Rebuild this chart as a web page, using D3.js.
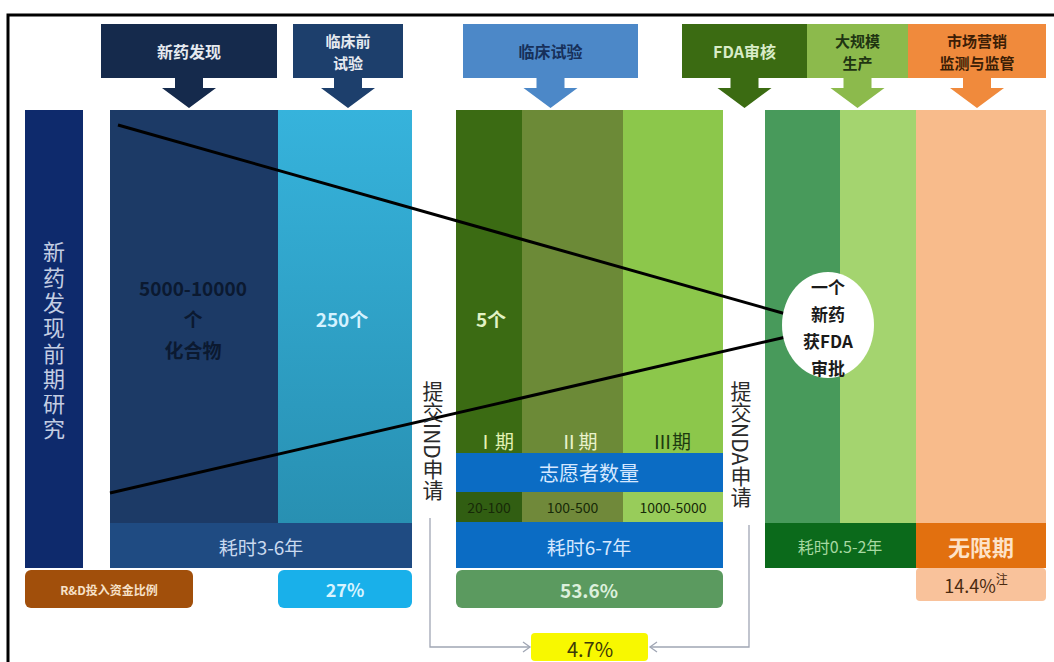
<!DOCTYPE html>
<meta charset="utf-8">
<style>
  body { margin: 0; background: #fff; }
  text { font-family: "Noto Sans CJK SC", "Noto Sans", sans-serif; }
  .vert { writing-mode: vertical-rl; }
</style>
<svg width="1054" height="662"></svg>
<script src="https://d3js.org/d3.v7.min.js"></script>
<script>

  // ---- data ----
  var stageLabels = [["新药发现"], ["临床前", "试验"], ["临床试验"], ["FDA审核"], ["大规模", "生产"], ["市场营销", "监测与监管"]];
  var stageColors = ["#152a4c", "#1d3f6c", "#4c88c8", "#3b6b12", "#8cba4c", "#f08a3c"];
  var stageText = ["#e6eaf0", "#e6eaf0", "#17305a", "#d8ecc8", "#1f3512", "#3c1e06"];
  var stageEdges = [101, 277, 293, 403, 463, 638, 682, 807, 807, 908, 908, 1046];

  var compounds = ["5000-10000", "个", "化合物"];
  var candidates = ["250个", "5个"];
  var approved = ["一个", "新药", "获FDA", "审批"];
  var phases = ["Ⅰ期", "Ⅱ期", "Ⅲ期"];
  var volunteers = ["20-100", "100-500", "1000-5000"];
  var durations = ["耗时3-6年", "耗时6-7年", "耗时0.5-2年", "无限期"];
  var rdShare = [27, 53.6, 14.4, 4.7];
  var filings = ["提交IND申请", "提交NDA申请"];

  var svg = d3.select("svg"),
    width = +svg.attr("width"),
    height = +svg.attr("height");

  var x = d3.scaleLinear().domain([0, 1054]).range([0, width]);
  var y = d3.scaleLinear().domain([0, 662]).range([0, height]);

  var defs = svg.append("defs");
  var g1 = defs.append("linearGradient").attr("id", "cyan").attr("x1", 0).attr("y1", 0).attr("x2", 0).attr("y2", 1);
  g1.append("stop").attr("offset", "0%").attr("stop-color", "#36b3dc");
  g1.append("stop").attr("offset", "100%").attr("stop-color", "#2890b2");

  function rect(x0, y0, x1, y1, fill, r) {
    return svg.append("rect")
      .attr("x", x(x0)).attr("y", y(y0))
      .attr("width", x(x1) - x(x0)).attr("height", y(y1) - y(y0))
      .attr("rx", r || 0).attr("fill", fill);
  }

  function label(tx, ty, str, size, fill, weight) {
    return svg.append("text")
      .attr("x", x(tx)).attr("y", y(ty))
      .attr("text-anchor", "middle").attr("dominant-baseline", "central")
      .attr("font-size", size).attr("font-weight", weight || "bold")
      .attr("fill", fill).text(str);
  }

  // frame
  svg.append("path")
    .attr("d", "M" + x(8) + "," + y(662) + "V" + y(15) + "H" + x(1054))
    .attr("fill", "none").attr("stroke", "#000").attr("stroke-width", 3);

  // ---- header boxes with arrows ----
  stageLabels.forEach(function (lines, i) {
    var x0 = stageEdges[i * 2], x1 = stageEdges[i * 2 + 1], cx = (x0 + x1) / 2;
    rect(x0, 24, x1, 78, stageColors[i]);
    svg.append("path")
      .attr("d", "M" + x(cx - 14) + "," + y(78) + "V" + y(88) + "H" + x(cx - 27) +
        "L" + x(cx) + "," + y(108) + "L" + x(cx + 27) + "," + y(88) + "H" + x(cx + 14) + "V" + y(78) + "Z")
      .attr("fill", stageColors[i]);
    lines.forEach(function (s, j) {
      var ty = lines.length === 1 ? 51 : 40 + j * 22;
      label(cx, ty, s, lines.length === 1 ? 16 : 15, stageText[i]);
    });
  });

  // ---- columns ----
  rect(25, 110, 83, 568, "#0e2a6c");
  rect(110, 110, 278, 523, "#1c3a66");
  rect(278, 110, 412, 523, "url(#cyan)");

  var phaseX = [456, 522, 623, 723];
  var phaseFill = ["#3b6b13", "#6c8a37", "#8cc74b"];
  var volFill = ["#315e12", "#70893a", "#98cc5a"];
  var phaseLabelFill = ["#e4f2b4", "#eaf2cc", "#1d3a10"];
  phases.forEach(function (p, i) {
    rect(phaseX[i], 110, phaseX[i + 1], 453, phaseFill[i]);
    rect(phaseX[i], 492, phaseX[i + 1], 522, volFill[i]);
  });

  rect(765, 110, 840, 523, "#489a5b");
  rect(840, 110, 916, 523, "#a4d46f");
  rect(916, 110, 1046, 523, "#f8bb8b");

  // bands
  rect(110, 523, 412, 568, "#1f4b82");
  rect(456, 453, 723, 492, "#0b6cc4");
  rect(456, 522, 723, 568, "#0b6cc4");
  rect(765, 523, 916, 568, "#0b6a1b");
  rect(916, 523, 1046, 568, "#e2700f");

  // R&D share boxes
  rect(25, 570, 193, 608, "#a14f0b", 6);
  rect(278, 570, 412, 608, "#19b0ea", 6);
  rect(456, 570, 723, 608, "#5b9a5f", 6);
  rect(916, 568, 1046, 601, "#f9c29b", 4);

  // ---- funnel lines ----
  var line = d3.line().x(function (d) { return x(d[0]); }).y(function (d) { return y(d[1]); });
  svg.append("path").attr("d", line([[118, 125], [786, 314]]))
    .attr("stroke", "#000").attr("stroke-width", 3).attr("fill", "none");
  svg.append("path").attr("d", line([[110, 493], [786, 337]]))
    .attr("stroke", "#000").attr("stroke-width", 3).attr("fill", "none");

  svg.append("ellipse").attr("cx", x(828)).attr("cy", y(325))
    .attr("rx", 46).attr("ry", 53).attr("fill", "#fff");
  approved.forEach(function (s, i) {
    label(828, 286 + i * 27, s, 17, "#1a1a1a");
  });

  // ---- column texts ----
  svg.append("text").attr("class", "vert")
    .attr("x", x(54)).attr("y", y(241))
    .attr("font-size", 22).attr("letter-spacing", 3.3)
    .attr("fill", "#c3cde2").text("新药发现前期研究");

  label(193, 287, compounds[0], 19, "#0b1930");
  label(193, 318, compounds[1], 19, "#0b1930");
  label(193, 349, compounds[2], 19, "#0b1930");
  label(342, 318, candidates[0], 19, "#d4f2ff");
  label(491, 318, candidates[1], 19, "#e2f2c4");

  phases.forEach(function (p, i) {
    var cx = i === 2 ? 672 : (phaseX[i] + phaseX[i + 1]) / 2 + 6;
    label(cx, 440, p, 19, phaseLabelFill[i], "normal").attr("font-family", "Liberation Serif, Noto Sans CJK SC");
    var vx = (phaseX[i] + phaseX[i + 1]) / 2;
    label(vx, 507, volunteers[i], 14, "#172a08", "normal").attr("font-family", "Liberation Serif, serif");
  });
  label(589, 472, "志愿者数量", 20, "#d6e8ff", "normal");

  label(261, 546, durations[0], 19, "#c9d9ef", "normal");
  label(589, 546, durations[1], 19, "#d6e8ff", "normal");
  label(840, 546, durations[2], 16, "#a6d9a2", "normal");
  label(981, 546, durations[3], 22, "#fde2c8");

  label(109, 589, "R&D投入资金比例", 12, "#f7e1c8");
  label(345, 589, rdShare[0] + "%", 18, "#d8f4ff");
  label(589, 589, rdShare[1] + "%", 19, "#dcf0dc");
  var t = label(976, 585, rdShare[2] + "%", 18, "#4a2a10", "normal");
  t.append("tspan").attr("dy", -7).attr("font-size", 12).text("注");

  // ---- filing texts (vertical) ----
  [[433, filings[0]], [741, filings[1]]].forEach(function (d) {
    svg.append("text").attr("class", "vert")
      .attr("x", x(d[0])).attr("y", y(381))
      .attr("font-size", 21).attr("fill", "#2a2a2a")
      .text(d[1]);
  });

  // ---- bracket to 4.7% ----
  var bracket = svg.append("g").attr("stroke", "#a0a6b4").attr("stroke-width", 1.3).attr("fill", "none");
  bracket.append("path").attr("d", line([[430, 518], [430, 647], [530, 647]]));
  bracket.append("path").attr("d", line([[523, 642], [530, 647], [523, 652]]));
  bracket.append("path").attr("d", line([[749, 525], [749, 647], [650, 647]]));
  bracket.append("path").attr("d", line([[657, 642], [650, 647], [657, 652]]));

  rect(531, 633, 648, 661, "#f8f800", 4);
  label(590, 648, rdShare[3] + "%", 20, "#3c3a08", "normal");

</script>
